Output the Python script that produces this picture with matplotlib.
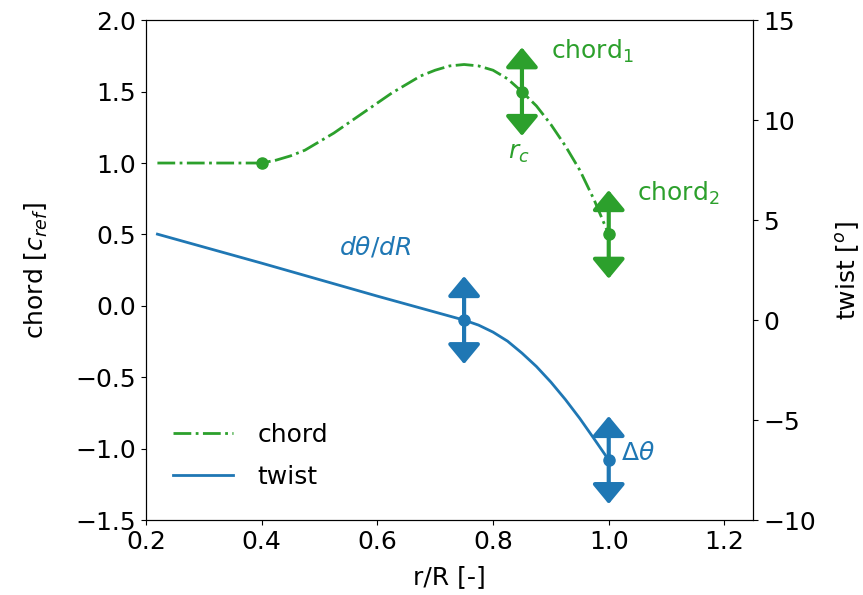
import matplotlib
matplotlib.use("Agg")
import matplotlib.pyplot as plt

# chord distribution
r_chord = [0.22, 0.30, 0.40, 0.425, 0.45, 0.475, 0.50, 0.525, 0.55, 0.575, 0.60,
           0.625, 0.65, 0.675, 0.70, 0.725, 0.75, 0.775, 0.80, 0.825, 0.85,
           0.875, 0.90, 0.925, 0.95, 0.975, 1.00]
chord = [1.00, 1.00, 1.00, 1.02, 1.05, 1.09, 1.15, 1.21, 1.28, 1.35, 1.42,
         1.49, 1.55, 1.61, 1.65, 1.68, 1.69, 1.68, 1.65, 1.59, 1.50,
         1.40, 1.27, 1.12, 0.95, 0.74, 0.50]

# twist distribution [deg]
r_twist = [0.22, 0.40, 0.60, 0.75, 0.775, 0.80, 0.825, 0.85, 0.875, 0.90,
           0.925, 0.95, 0.975, 1.00]
twist = [4.3, 2.85, 1.2, 0.0, -0.25, -0.6, -1.05, -1.65, -2.32, -3.1,
         -3.97, -4.92, -5.95, -7.0]

# control points
r_chord_cp = [0.40, 0.85, 1.00]
chord_cp = [1.00, 1.50, 0.50]
r_twist_cp = [0.75, 1.00]
twist_cp = [0.0, -7.0]

green = "#2ca02c"
blue = "#1f77b4"
fs = 18

plt.rcParams["font.size"] = fs

fig = plt.figure(figsize=(8.63, 5.95), dpi=100)
ax1 = fig.add_axes([0.169, 0.126, 0.704, 0.84])
ax2 = ax1.twinx()

l1, = ax1.plot(r_chord, chord, "-.", color=green, lw=2, label="chord")
ax1.plot(r_chord_cp, chord_cp, "o", color=green, ms=8)
l2, = ax2.plot(r_twist, twist, "-", color=blue, lw=2, label="twist")
ax2.plot(r_twist_cp, twist_cp, "o", color=blue, ms=8)

arrow_style = "<|-|>,head_width=0.62,head_length=0.75"
# double arrows on movable points
for x, y in zip(r_chord_cp[1:], chord_cp[1:]):
    ax1.annotate("", xy=(x, y + 0.31), xytext=(x, y - 0.31),
                 arrowprops=dict(arrowstyle=arrow_style, color=green, lw=3,
                                 mutation_scale=16, shrinkA=0, shrinkB=0))
for x, y in zip(r_twist_cp, twist_cp):
    ax2.annotate("", xy=(x, y + 2.2), xytext=(x, y - 2.2),
                 arrowprops=dict(arrowstyle=arrow_style, color=blue, lw=3,
                                 mutation_scale=16, shrinkA=0, shrinkB=0))

ax1.text(0.90, 1.78, "chord$_1$", color=green, fontsize=fs, va="center")
ax1.text(0.845, 1.07, "$r_c$", color=green, fontsize=fs, ha="center", va="center")
ax1.text(1.048, 0.79, "chord$_2$", color=green, fontsize=fs, va="center")
ax1.text(0.597, 0.41, r"$d\theta/dR$", color=blue, fontsize=fs, ha="center", va="center")
ax1.text(1.022, -1.03, r"$\Delta\theta$", color=blue, fontsize=fs, va="center")

ax1.set_xlim(0.2, 1.25)
ax1.set_ylim(-1.5, 2.0)
ax2.set_ylim(-10, 15)
ax1.set_xticks([0.2, 0.4, 0.6, 0.8, 1.0, 1.2])
ax1.set_yticks([-1.5, -1.0, -0.5, 0.0, 0.5, 1.0, 1.5, 2.0])
ax2.set_yticks([-10, -5, 0, 5, 10, 15])

ax1.set_xlabel("r/R [-]", labelpad=8.5)
ax1.set_ylabel("chord [$c_{ref}$]", labelpad=18)
ax2.set_ylabel("twist [$^o$]", labelpad=13)

ax1.legend(handles=[l1, l2], loc="lower left", frameon=False,
           labelspacing=0.7, handlelength=2.4, handletextpad=1.0,
           bbox_to_anchor=(0.007, 0.018))

fig.savefig("out.png", dpi=100)
